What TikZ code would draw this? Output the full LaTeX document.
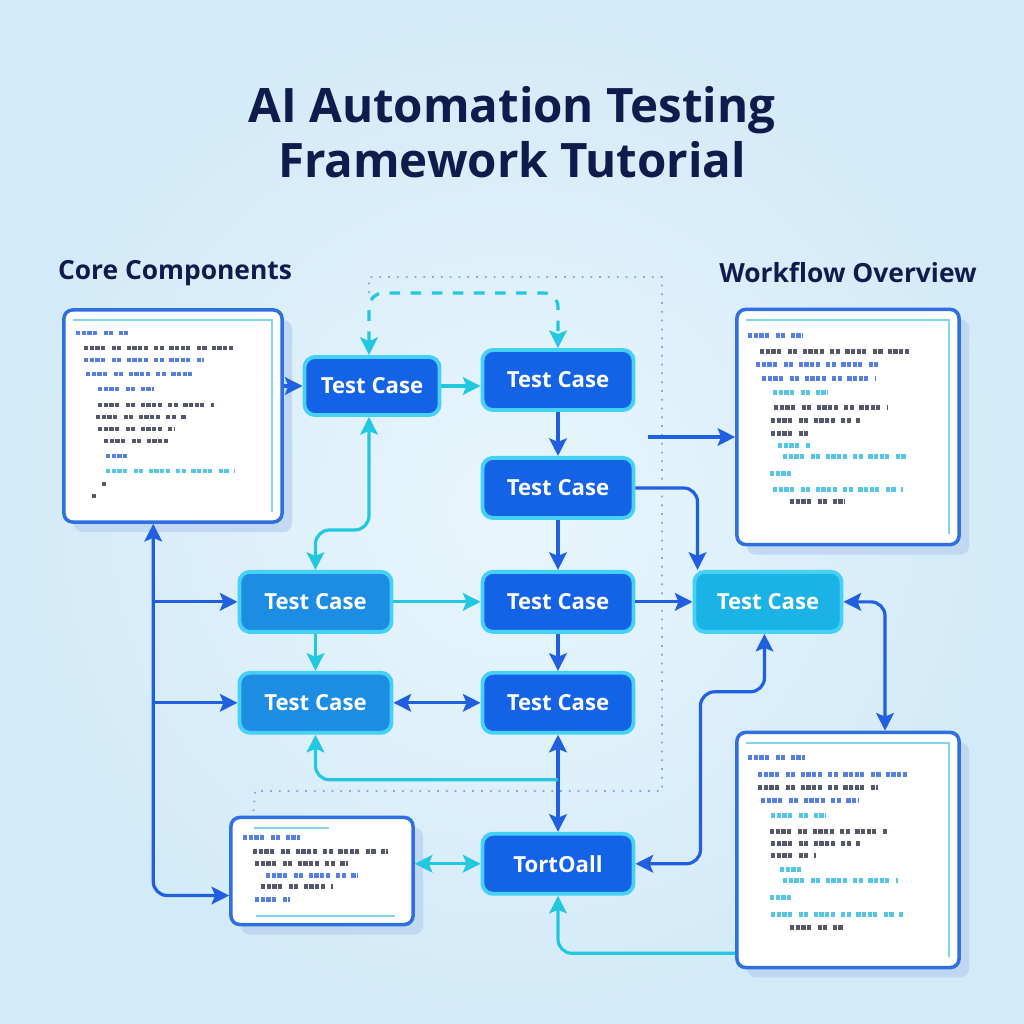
\documentclass[tikz,border=0pt]{standalone}
\usepackage{fontspec}
\setmainfont{Open Sans}
\usepackage{xcolor}
\definecolor{titleNavy}{HTML}{0F1B4B}
\definecolor{bgLight}{HTML}{E8F6FC}
\definecolor{bgDark}{HTML}{D3EAF8}
\definecolor{caseBlue}{HTML}{1463E6}
\definecolor{caseMid}{HTML}{1C8DE3}
\definecolor{caseLight}{HTML}{1BB2E5}
\definecolor{glowCyan}{HTML}{45D0F5}
\definecolor{flowBlue}{HTML}{1F5FE0}
\definecolor{flowCyan}{HTML}{22C8E0}
\definecolor{guideGray}{HTML}{8AA6D6}
\definecolor{panelEdge}{HTML}{2F6FE0}
\definecolor{panelShade}{HTML}{BCD3F0}
\definecolor{codeDark}{HTML}{2A2F45}
\definecolor{codeBlue}{HTML}{2B5FD9}
\definecolor{codeCyan}{HTML}{2BB8E0}
\usepackage{tikz}
\usetikzlibrary{
    arrows.meta,
    shadows,
    positioning,
    calc
}
\tikzset{
    % Base style for the test case boxes
    casebox/.style={
        rectangle,
        rounded corners=3pt,
        font=\bfseries\fontsize{6.3}{8}\selectfont,
        text=white,
        fill=caseBlue,
        draw=glowCyan,
        line width=1.1pt,
        minimum width=1.51cm,
        minimum height=0.60cm,
    },
    casemid/.style={casebox, fill=caseMid},
    caselight/.style={casebox, fill=caseLight},
    % Code panels - white card with a soft shadow
    codepanel/.style={
        rectangle,
        rounded corners=2.5pt,
        fill=white,
        draw=panelEdge,
        line width=1pt,
        drop shadow={shadow xshift=0.1cm, shadow yshift=-0.1cm,
            fill=panelShade, opacity=0.8},
    },
    % One line of fake source code
    codeline/.style={
        line width=1.3pt,
        opacity=0.8,
        dash pattern=on 1.2pt off 0.4pt on 1.2pt off 0.4pt on 1.2pt off 0.4pt on 1.2pt off 1.8pt on 1.2pt off 0.4pt on 1.2pt off 1.5pt,
    },
    innerframe/.style={draw=codeCyan!60, line width=0.5pt},
    % Section headings
    heading/.style={font=\bfseries\fontsize{7.5}{9}\selectfont, text=titleNavy},
    % Connectors
    bluearrow/.style={
        -{Stealth[length=5pt, width=5pt, inset=1pt]},
        draw=flowBlue,
        line width=0.9pt,
        rounded corners=4pt,
    },
    cyanarrow/.style={
        bluearrow,
        draw=flowCyan,
    },
    twoway/.style={{Stealth[length=5pt, width=5pt, inset=1pt]}-{Stealth[length=5pt, width=5pt, inset=1pt]}},
    guideline/.style={draw=guideGray, line width=0.5pt, dotted},
}

% fake code lines inside a panel: y/x-start/x-end/colour
\newcommand{\codelines}[2]{%
    \begin{scope}[shift={(#1.north west)}]
        \foreach \yy/\xa/\xb/\cc in {#2}
            \draw[codeline, draw=\cc] (\xa,\yy) -- (\xb,\yy);
    \end{scope}}

\begin{document}
\begin{tikzpicture}[x=0.01cm, y=-0.01cm, node distance=0.5cm]
    \useasboundingbox (0,0) rectangle (1024,1024);
    \shade[inner color=bgLight, outer color=bgDark] (0,0) rectangle (1024,1024);

    % titles
    \node (title) [font=\bfseries\fontsize{13.5}{15.8}\selectfont, text=titleNavy, align=center]
        at (512,132) {AI Automation Testing\\Framework Tutorial};
    \node (coreHead) [heading] at (175,273) {Core Components};
    \node (flowHead) [heading] at (848,273) {Workflow Overview};

    % code panels
    \node (coreCode) [codepanel, minimum width=2.18cm, minimum height=2.12cm] at (173,416) {};
    \node (flowCode) [codepanel, minimum width=2.22cm, minimum height=2.35cm] at (848,427) {};
    \node (resultCode) [codepanel, minimum width=2.22cm, minimum height=2.35cm] at (848,850) {};
    \node (logCode) [codepanel, minimum width=1.82cm, minimum height=1.07cm] at (322,871) {};

    \codelines{coreCode}{25/14/66/codeBlue, 40/22/172/codeDark, 52/22/142/codeBlue,
        66/24/136/codeBlue, 81/36/92/codeBlue, 97/36/152/codeDark, 109/34/124/codeDark,
        121/36/112/codeDark, 133/42/108/codeDark, 148/44/66/codeBlue, 163/44/172/codeCyan,
        176/40/44/codeDark, 188/30/34/codeDark}
    \codelines{flowCode}{28/13/68/codeBlue, 44/25/175/codeDark, 57/21/143/codeBlue,
        71/27/140/codeBlue, 85/38/93/codeCyan, 100/39/153/codeDark, 113/36/125/codeDark,
        126/36/78/codeDark, 138/43/75/codeCyan, 149/48/173/codeCyan, 166/35/58/codeCyan,
        182/38/168/codeCyan, 194/55/110/codeDark}
    \codelines{resultCode}{27/13/70/codeBlue, 44/23/173/codeBlue, 57/23/143/codeDark,
        70/26/123/codeBlue, 85/36/91/codeCyan, 101/35/153/codeDark, 113/36/125/codeDark,
        125/36/81/codeDark, 139/45/71/codeCyan, 150/48/163/codeCyan, 167/35/58/codeCyan,
        184/36/168/codeCyan, 197/55/108/codeDark}
    \codelines{logCode}{22/14/71/codeBlue, 36/24/159/codeDark, 48/26/119/codeDark,
        60/37/129/codeBlue, 71/32/104/codeDark, 84/26/61/codeBlue}

    % thin inner frames of the panels
    \draw[innerframe] ([shift={(0.11cm,-0.12cm)}]coreCode.north west) -- ([shift={(-0.12cm,-0.12cm)}]coreCode.north east)
        -- ([shift={(-0.12cm,0.12cm)}]coreCode.south east);
    \draw[innerframe] ([shift={(0.11cm,-0.12cm)}]flowCode.north west) -- ([shift={(-0.12cm,-0.12cm)}]flowCode.north east)
        -- ([shift={(-0.12cm,0.12cm)}]flowCode.south east);
    \draw[innerframe] ([shift={(0.11cm,-0.12cm)}]resultCode.north west) -- ([shift={(-0.12cm,-0.12cm)}]resultCode.north east)
        -- ([shift={(-0.12cm,0.12cm)}]resultCode.south east);
    \draw[innerframe] ([shift={(0.25cm,-0.12cm)}]logCode.north west) -- ([shift={(1.0cm,-0.12cm)}]logCode.north west);
    \draw[innerframe] ([shift={(0.27cm,0.1cm)}]logCode.south west) -- ([shift={(-0.2cm,0.1cm)}]logCode.south east);

    % test case boxes
    \node (caseA) [casebox, minimum width=1.35cm, minimum height=0.58cm] at (372,386) {Test Case};
    \node (caseB) [casebox] at (558,380) {Test Case};
    \node (caseC) [casebox, below=0.44cm of caseB] {Test Case};
    \node (caseE) [casebox, below=0.50cm of caseC] {Test Case};
    \node (caseH) [casebox, below=0.37cm of caseE] {Test Case};
    \node (testall) [casebox, below=0.97cm of caseH] {TortOall};
    \node (caseD) [casemid, minimum width=1.52cm, left=0.87cm of caseE] {Test Case};
    \node (caseG) [casemid, minimum width=1.52cm, below=0.37cm of caseD] {Test Case};
    \node (caseF) [caselight, minimum width=1.47cm, right=0.57cm of caseE] {Test Case};

    % dotted guide frame
    \draw[guideline] ([xshift=-0.03cm]caseA.north) ++(0,-62) -- ++(0,-16) -- ++(293,0) -- ++(0,514)
        -- ++(-407,0) -- ([xshift=0.24cm]logCode.north west);

    % connectors
    \draw[bluearrow] (coreCode.east |- caseA.west) -- (caseA.west);
    \draw[cyanarrow] (caseA.east) -- (caseA.east -| caseB.west);
    \draw[cyanarrow, dashed, twoway] ([xshift=-0.03cm]caseA.north) -- ++(0,-62) -| (caseB.north);
    \draw[bluearrow] (caseB) -- (caseC);
    \draw[bluearrow] (caseC) -- (caseE);
    \draw[bluearrow] (caseE) -- (caseH);
    \draw[bluearrow] (caseC.east) -| ([xshift=0.05cm]caseF.north west);
    \coordinate (flowIn) at (648,437);
    \draw[bluearrow] (flowIn) -- (flowIn -| flowCode.west);
    \draw[cyanarrow, twoway] ([xshift=-0.03cm]caseA.south) -- ++(0,113) -| (caseD.north);
    \draw[cyanarrow] (caseD) -- (caseE);
    \draw[bluearrow] (caseE) -- (caseF);
    \draw[cyanarrow] (caseD) -- (caseG);
    \draw[bluearrow, twoway] (caseG) -- (caseH);
    \draw[bluearrow, twoway] (caseH) -- (testall);
    \draw[cyanarrow] ([yshift=-0.45cm]caseH.south) -| (caseG.south);

    % left bus
    \coordinate (busTop) at ([xshift=0.91cm]coreCode.south west);
    \draw[bluearrow, twoway] (busTop) |- ([yshift=-0.245cm]logCode.west);
    \draw[bluearrow] (busTop |- caseD.west) -- (caseD.west);
    \draw[bluearrow] (busTop |- caseG.west) -- (caseG.west);

    % right side
    \draw[bluearrow, twoway] (caseF.east) -| ([xshift=0.37cm]resultCode.north);
    \draw[bluearrow, twoway] ([xshift=-0.035cm]caseF.south) -- ++(0,58) -- ++(-64,0) |- (testall.east);
    \draw[cyanarrow, twoway] (logCode.east |- testall.west) -- (testall.west);
    \draw[cyanarrow] ([yshift=0.16cm]resultCode.south west) -| (testall.south);
\end{tikzpicture}
\end{document}
